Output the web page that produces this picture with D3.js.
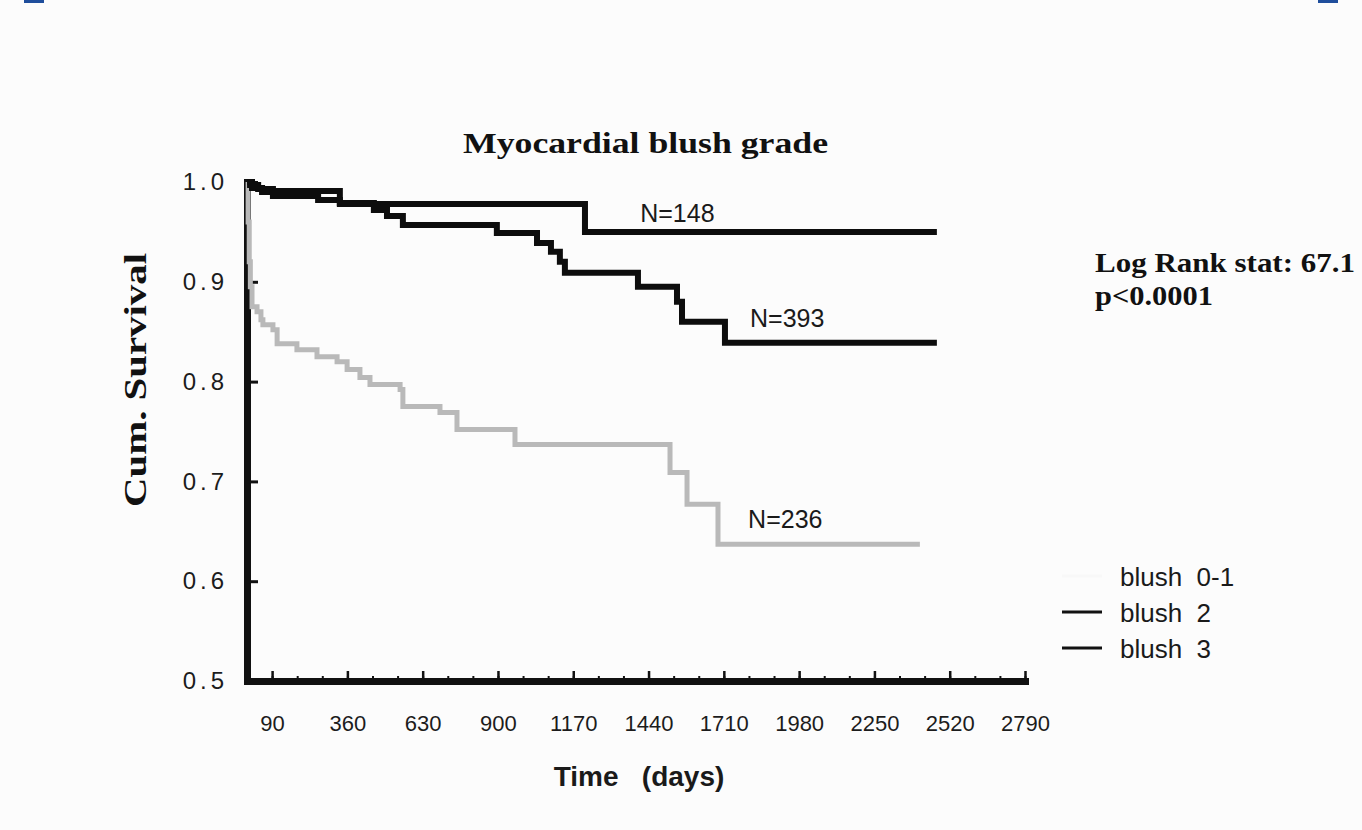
<!DOCTYPE html>
<html>
<head>
<meta charset="utf-8">
<script src="https://cdn.jsdelivr.net/npm/d3@7"></script>
<style>
  html, body { margin: 0; padding: 0; background: #fcfcfc; }
  svg { display: block; }
  .sans { font-family: "Liberation Sans", Arial, sans-serif; }
  .serif { font-family: "Liberation Serif", "Times New Roman", serif; font-weight: bold; }
</style>
</head>
<body>
<svg id="chart" width="1362" height="830"></svg>
<script>
// Kaplan-Meier steps (days, cumulative survival)
const blush01Days = [0, 4, 8, 12, 18, 36, 50, 57, 93, 108, 179, 251, 323, 359, 405, 441, 549, 559, 692, 753, 961, 1517, 1578, 1689, 2413];
const blush01Surv = [1.0, 0.96, 0.92, 0.895, 0.875, 0.87, 0.862, 0.857, 0.852, 0.838, 0.832, 0.825, 0.82, 0.812, 0.804, 0.797, 0.792, 0.775, 0.769, 0.752, 0.737, 0.709, 0.677, 0.637, 0.637];

const blush2Days = [0, 18, 54, 93, 255, 333, 455, 502, 559, 896, 1040, 1090, 1122, 1140, 1402, 1542, 1560, 1714, 2474];
const blush2Surv = [1.0, 0.994, 0.99, 0.986, 0.982, 0.979, 0.972, 0.966, 0.957, 0.949, 0.939, 0.93, 0.92, 0.909, 0.895, 0.88, 0.86, 0.839, 0.839];

const blush3Days = [0, 11, 40, 93, 333, 1212, 2474];
const blush3Surv = [1.0, 0.997, 0.993, 0.991, 0.978, 0.95, 0.95];

const groupNames = ['blush  0-1', 'blush  2', 'blush  3'];
const groupN = [236, 393, 148];

const xMajorTicks = [90, 360, 630, 900, 1170, 1440, 1710, 1980, 2250, 2520, 2790];
const xMinorTicks = d3.range(90, 2791, 90);
const yTicks = [0.5, 0.6, 0.7, 0.8, 0.9, 1.0];

const svg = d3.select('#chart');

// little blue marks at the top edge of the scan
svg.append('rect').attr('x', 24).attr('y', 0).attr('width', 20).attr('height', 3).attr('fill', '#1f4e9c');
svg.append('rect').attr('x', 1318).attr('y', 0).attr('width', 20).attr('height', 3).attr('fill', '#1f4e9c');

const x = d3.scaleLinear().domain([0, 2790]).range([247, 1025]);
const y = d3.scaleLinear().domain([0.5, 1.0]).range([681, 182]);

// title
svg.append('text')
  .attr('class', 'serif')
  .attr('x', 463).attr('y', 153)
  .attr('font-size', 30)
  .attr('textLength', 365).attr('lengthAdjust', 'spacingAndGlyphs')
  .attr('fill', '#111')
  .text('Myocardial blush grade');

// x axis: minor ticks, then major ticks with labels
const xMinor = svg.append('g')
  .attr('transform', `translate(0,${y(0.5)})`)
  .call(d3.axisBottom(x).tickValues(xMinorTicks).tickSize(-5).tickSizeOuter(0).tickFormat(''));
xMinor.select('.domain').remove();
xMinor.selectAll('.tick line').attr('stroke', '#111').attr('stroke-width', 2);

const xAxis = svg.append('g')
  .attr('transform', `translate(0,${y(0.5)})`)
  .call(d3.axisBottom(x).tickValues(xMajorTicks).tickSize(-10).tickSizeOuter(0).tickPadding(34).tickFormat(d3.format('d')));
xAxis.select('.domain').attr('stroke', '#111').attr('stroke-width', 7).attr('stroke-linecap', 'square');
xAxis.selectAll('.tick line').attr('stroke', '#111').attr('stroke-width', 2.5);
xAxis.selectAll('.tick text')
  .attr('font-size', 22).attr('fill', '#1c1c1c')
  .attr('font-family', '"Liberation Sans", Arial, sans-serif');

// y axis, ticks pointing inward
const yAxis = svg.append('g')
  .attr('transform', `translate(${x(0)},0)`)
  .call(d3.axisLeft(y).tickValues(yTicks).tickSize(-11).tickSizeOuter(0).tickPadding(19).tickFormat(d3.format('.1f')));
yAxis.select('.domain').attr('stroke', '#111').attr('stroke-width', 7).attr('stroke-linecap', 'square');
yAxis.selectAll('.tick line').attr('stroke', '#111').attr('stroke-width', 3);
yAxis.selectAll('.tick text')
  .attr('font-size', 24).attr('fill', '#1c1c1c').attr('letter-spacing', 4)
  .attr('font-family', '"Liberation Sans", Arial, sans-serif');

// axis titles
svg.append('text')
  .attr('class', 'serif')
  .attr('transform', 'translate(146,380) rotate(-90)')
  .attr('text-anchor', 'middle')
  .attr('font-size', 31)
  .attr('textLength', 254).attr('lengthAdjust', 'spacingAndGlyphs')
  .attr('fill', '#111')
  .text('Cum. Survival');

svg.append('text')
  .attr('class', 'sans')
  .attr('x', 639).attr('y', 786)
  .attr('text-anchor', 'middle')
  .attr('font-size', 28).attr('font-weight', 'bold')
  .attr('fill', '#1a1a1a')
  .style('white-space', 'pre')
  .text('Time   (days)');

// survival curves
const line = d3.line()
  .x(d => x(d[0]))
  .y(d => y(d[1]))
  .curve(d3.curveStepAfter);

const series = [
  { days: blush01Days, surv: blush01Surv, color: '#b9b9b9', width: 5 },
  { days: blush2Days, surv: blush2Surv, color: '#0d0d0d', width: 6 },
  { days: blush3Days, surv: blush3Surv, color: '#0d0d0d', width: 6 }
];

svg.append('g')
  .selectAll('path')
  .data(series)
  .enter()
  .append('path')
  .attr('d', s => line(s.days.map((d, i) => [d, s.surv[i]])))
  .attr('fill', 'none')
  .attr('stroke', s => s.color)
  .attr('stroke-width', s => s.width)
  .attr('stroke-linejoin', 'miter');

// N= labels next to each curve
const nLabels = [
  { text: 'N=' + groupN[2], day: 1410, surv: 0.960 },
  { text: 'N=' + groupN[1], day: 1804, surv: 0.855 },
  { text: 'N=' + groupN[0], day: 1797, surv: 0.653 }
];
svg.append('g')
  .selectAll('text')
  .data(nLabels)
  .enter()
  .append('text')
  .attr('class', 'sans')
  .attr('x', d => x(d.day))
  .attr('y', d => y(d.surv))
  .attr('font-size', 25)
  .attr('fill', '#1a1a1a')
  .text(d => d.text);

// log rank annotation
svg.append('text')
  .attr('class', 'serif')
  .attr('x', 1095).attr('y', 272)
  .attr('font-size', 27)
  .attr('textLength', 260).attr('lengthAdjust', 'spacingAndGlyphs')
  .attr('fill', '#111')
  .text('Log Rank stat: 67.1');
svg.append('text')
  .attr('class', 'serif')
  .attr('x', 1095).attr('y', 305)
  .attr('font-size', 27)
  .attr('textLength', 118).attr('lengthAdjust', 'spacingAndGlyphs')
  .attr('fill', '#111')
  .text('p<0.0001');

// legend (the blush 0-1 sample line is washed out in the scan)
const legendColors = ['#f8f8f8', '#111', '#111'];
const legend = svg.append('g').attr('class', 'sans');
const rows = legend.selectAll('g')
  .data(groupNames)
  .enter()
  .append('g')
  .attr('transform', (d, i) => `translate(0,${576 + i * 36})`);
rows.append('line')
  .attr('x1', 1062).attr('x2', 1102)
  .attr('y1', 0).attr('y2', 0)
  .attr('stroke', (d, i) => legendColors[i])
  .attr('stroke-width', 3);
rows.append('text')
  .attr('x', 1120).attr('y', 10)
  .attr('font-size', 26)
  .attr('fill', '#1a1a1a')
  .style('white-space', 'pre')
  .text(d => d);
</script>
</body>
</html>
